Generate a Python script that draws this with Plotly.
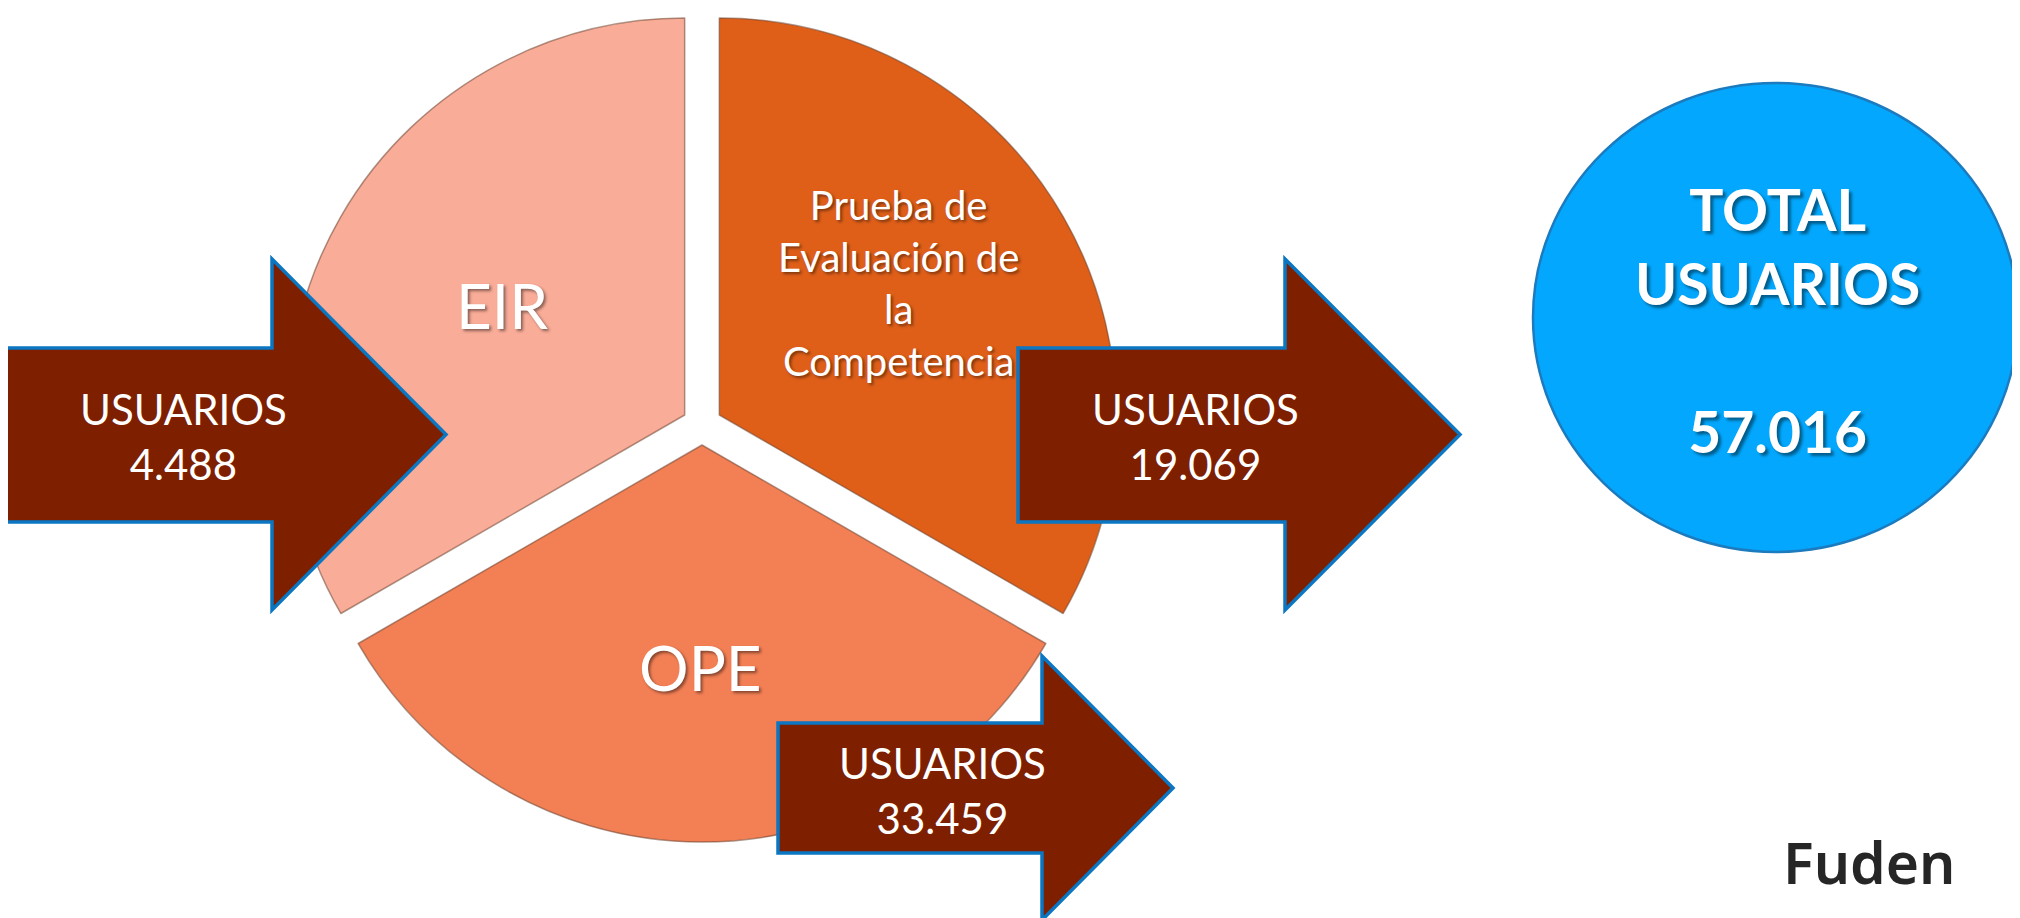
import plotly.graph_objects as go

# ---------------- data ----------------
segments = ["Prueba de Evaluación de la Competencia", "EIR", "OPE"]
segment_labels = ["Prueba de<br>Evaluación de<br>la<br>Competencia", "EIR", "OPE"]
segment_weight = [1, 1, 1]            # SmartArt cycle: equal slices
usuarios = [19069, 4488, 33459]       # users per segment (same order)
total_title = "TOTAL<br>USUARIOS"
total_usuarios = 57016
logo_text = "Fuden"

seg_colors = ["#DF5F19", "#F9AC98", "#F37F55"]
arrow_fill = "#7E1F00"
arrow_line = "#0B76C2"
circle_fill = "#03A8FE"
circle_line = "#1B7BBE"


def fmt(v):
    return f"{v:,}".replace(",", ".")


# page body has an 8px margin: figure is sized so it fills the 2020x918 window
OFF = 8
W, H = 2020, 918
FW, FH = W - OFF, H - OFF
fig = go.Figure()

# invisible frame (in window pixels) for the decorations
fig.add_trace(go.Scatter(x=[None], y=[None], showlegend=False, hoverinfo="skip"))

# ---------------- exploded pie ----------------
pie_cx, pie_cy, pie_r, pull = 702, 425, 397, 0.0504
half = pie_r * (1 + pull)
dom_x = [(pie_cx - OFF - half) / FW, (pie_cx - OFF + half) / FW]
yc = (FH - (pie_cy - OFF)) / FH
dom_y = [max(0, yc - half / FH), min(1, yc + half / FH)]

fig.add_trace(go.Pie(
    labels=segments,
    values=segment_weight,
    sort=False,
    direction="counterclockwise",
    rotation=0,
    pull=[pull] * 3,
    textinfo="none",
    hoverinfo="label",
    marker=dict(colors=seg_colors, line=dict(color="rgba(110,70,50,0.55)", width=1.5)),
    domain=dict(x=dom_x, y=dom_y),
    showlegend=False,
))

# ---------------- arrows ----------------
def arrow_path(x0, bt, bb, hx, ht, hb, tip):
    ym = (ht + hb) / 2
    return (f"M{x0},{bt} L{hx},{bt} L{hx},{ht} L{tip},{ym} L{hx},{hb} "
            f"L{hx},{bb} L{x0},{bb} Z")

arrow_geom = [  # x0, body top, body bottom, head x, head top, head bottom, tip x
    (1018, 348, 522, 1285, 259, 610, 1460),  # Prueba
    (6, 348, 522, 272, 259, 610, 446),       # EIR
    (778, 723, 853, 1042, 656, 920, 1173),   # OPE
]
shapes = []
for g in arrow_geom:
    shapes.append(dict(type="path", path=arrow_path(*g), xref="x", yref="y",
                       fillcolor=arrow_fill, line=dict(color=arrow_line, width=3.5),
                       layer="above"))

# total circle
shapes.append(dict(type="circle", xref="x", yref="y", x0=1533, x1=2018, y0=83, y1=552,
                   fillcolor=circle_fill, line=dict(color=circle_line, width=2.5),
                   layer="above"))

annotations = []
shadow = "2px 2px 3px rgba(0,0,0,0.45)"

# segment labels
seg_label_pos = [(898, 283, 40), (502, 305, 62), (700, 667, 62)]
for lab, (x, y, s) in zip(segment_labels, seg_label_pos):
    annotations.append(dict(x=x, y=y, xref="x", yref="y", text=lab, showarrow=False,
                            font=dict(family="Lato", size=s, color="white", shadow=shadow),
                            align="center", xanchor="center", yanchor="middle"))

# arrow labels
arrow_text_pos = [(1195, 436), (183, 436), (942, 790)]
for v, (x, y) in zip(usuarios, arrow_text_pos):
    annotations.append(dict(x=x, y=y, xref="x", yref="y",
                            text=f"USUARIOS<br>{fmt(v)}", showarrow=False,
                            font=dict(family="Lato", size=42, color="white"),
                            align="center", xanchor="center", yanchor="middle"))

# total
annotations.append(dict(x=1777, y=320, xref="x", yref="y",
                        text=f"<b>{total_title}<br> <br>{fmt(total_usuarios)}</b>",
                        showarrow=False,
                        font=dict(family="Lato", size=57, color="white",
                                  shadow="3px 3px 3px rgba(0,0,0,0.45)"),
                        align="center", xanchor="center", yanchor="middle"))

# logo
annotations.append(dict(x=1869, y=862, xref="x", yref="y", text=logo_text, showarrow=False,
                        font=dict(family="Noto Sans", size=57, color="#262626", weight=600),
                        xanchor="center", yanchor="middle"))

fig.update_layout(
    width=FW, height=FH,
    margin=dict(l=0, r=0, t=0, b=0),
    paper_bgcolor="white", plot_bgcolor="white",
    xaxis=dict(range=[OFF, W], visible=False, fixedrange=True, domain=[0, 1]),
    yaxis=dict(range=[H, OFF], visible=False, fixedrange=True, domain=[0, 1]),
    shapes=shapes,
    annotations=annotations,
    showlegend=False,
)

fig.write_html("out.html")
